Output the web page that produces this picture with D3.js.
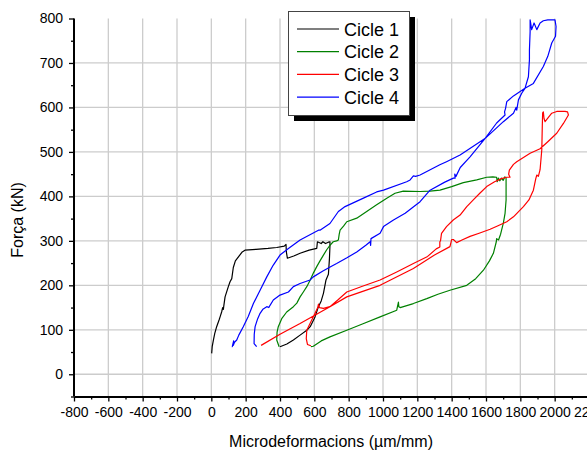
<!DOCTYPE html>
<meta charset="utf-8">
<script src="https://d3js.org/d3.v7.min.js"></script>
<style>
body{margin:0;background:#fff;}
text{font-family:"Liberation Sans",Arial,sans-serif;fill:#000;}
</style>
<body>
<div id="chart"></div>
<script>
// dades llegides del gràfic (microdeformacions, força kN)
var cicle1 = [[2,47],[5,62],[12,77],[20,92],[31,107],[45,122],[51,129],[60,140],[66,150],[70,146],[72,152],[80,174],[99,197],[109,208],[119,215],[128,240],[140,255],[160,265],[180,275],[196,279],[260,281],[330,283],[381,285],[425,288],[435,292],[437,275],[443,261],[480,266],[517,272],[570,279],[614,283],[618,298],[640,294],[650,298],[665,294],[682,297],[691,298],[691,288],[688,260],[682,225],[668,212],[653,182],[640,165],[624,152],[604,129],[576,107],[556,99],[517,88],[478,77],[440,68],[400,62]];
var cicle2 = [[395,62],[381,77],[383,95],[390,107],[410,125],[439,140],[478,152],[498,160],[517,174],[536,185],[556,197],[576,212],[595,228],[614,242],[633,255],[653,268],[672,280],[691,290],[710,298],[730,300],[740,302],[745,315],[750,324],[770,333],[789,343],[847,351],[905,366],[963,381],[1022,396],[1070,407],[1118,412],[1216,411],[1274,412],[1332,414],[1400,422],[1468,431],[1546,437],[1604,443],[1640,444],[1662,443],[1665,433],[1672,441],[1680,435],[1690,441],[1700,436],[1710,444],[1717,441],[1717,392],[1711,362],[1701,340],[1685,315],[1673,302],[1662,305],[1660,298],[1643,272],[1620,255],[1585,234],[1540,215],[1488,200],[1390,189],[1320,180],[1255,170],[1177,159],[1100,150],[1092,152],[1090,162],[1083,150],[1080,144],[983,129],[880,113],[789,99],[691,84],[640,75],[594,63],[580,62]];
var cicle3 = [[580,64],[560,67],[553,80],[556,99],[575,114],[604,137],[620,150],[624,158],[630,150],[653,148],[691,152],[740,168],[789,185],[880,198],[983,212],[1080,230],[1177,249],[1260,265],[1310,282],[1331,286],[1331,298],[1335,300],[1341,317],[1370,332],[1409,347],[1449,358],[1488,377],[1526,392],[1564,407],[1604,422],[1650,433],[1690,440],[1721,443],[1740,443],[1732,450],[1736,459],[1760,472],[1779,478],[1857,497],[1915,507],[1960,523],[2012,542],[2051,564],[2080,583],[2075,590],[2060,591],[2012,591],[1983,587],[1944,568],[1938,575],[1934,590],[1930,588],[1928,560],[1925,505],[1915,460],[1905,445],[1896,448],[1890,440],[1876,414],[1850,392],[1818,377],[1760,354],[1721,343],[1670,334],[1624,326],[1560,317],[1507,310],[1460,302],[1429,296],[1410,303],[1400,303],[1390,287],[1300,268],[1177,238],[983,200],[789,174],[691,152],[600,132],[517,114],[400,90],[290,65]];
var cicle4 = [[264,62],[249,69],[250,90],[255,107],[270,125],[284,137],[300,146],[323,152],[335,150],[342,155],[361,167],[400,178],[449,185],[478,197],[517,204],[575,212],[594,219],[650,232],[700,243],[730,249],[790,262],[847,275],[900,290],[925,298],[928,290],[930,305],[983,317],[1003,332],[1061,347],[1129,362],[1216,388],[1274,414],[1360,432],[1410,441],[1420,441],[1418,450],[1425,445],[1450,465],[1507,489],[1594,530],[1662,565],[1711,583],[1708,590],[1714,598],[1721,613],[1760,626],[1827,643],[1847,669],[1853,707],[1853,729],[1857,770],[1857,797],[1860,790],[1866,775],[1880,790],[1896,775],[1915,790],[1934,795],[1960,797],[2002,797],[2008,782],[2005,760],[1983,745],[1960,715],[1934,692],[1876,654],[1827,643],[1808,632],[1789,617],[1779,594],[1775,600],[1760,587],[1701,568],[1594,530],[1449,493],[1370,478],[1331,471],[1216,448],[1190,445],[1177,446],[1158,437],[1138,433],[1003,414],[963,410],[886,396],[779,377],[750,369],[740,366],[691,339],[633,324],[624,324],[536,306],[517,302],[449,283],[400,268],[360,245],[323,219],[284,189],[245,159],[215,130],[186,107],[160,88],[148,77],[135,72],[128,65],[130,75],[122,62],[119,62]];

var noms = ["Cicle 1","Cicle 2","Cicle 3","Cicle 4"];
var colors = ["#000000","#008000","#ff0000","#0000ff"];
var xTicks = [-800,-600,-400,-200,0,200,400,600,800,1000,1200,1400,1600,1800,2000,2200];
var yTicks = [0,100,200,300,400,500,600,700,800];

var W = 587, H = 453;
var x = d3.scaleLinear().domain([-800,2200]).range([74,589]);
var y = d3.scaleLinear().domain([-50,800]).range([396.5,18.5]);

var svg = d3.select('#chart').append('svg').attr('width',W).attr('height',H);

// graella
var grid = svg.append('g');
grid.selectAll('.gx').data(xTicks.filter(function(d){return d>-800;})).enter().append('line')
	.attr('x1',function(d){return x(d);}).attr('x2',function(d){return x(d);})
	.attr('y1',y(-50)).attr('y2',y(800)).attr('stroke','#cccccc').attr('stroke-width',1.3);
grid.selectAll('.gy').data(yTicks.filter(function(d){return d<800;})).enter().append('line')
	.attr('y1',function(d){return y(d);}).attr('y2',function(d){return y(d);})
	.attr('x1',x(-800)).attr('x2',W).attr('stroke','#cccccc').attr('stroke-width',1.3);

// corbes
var line = d3.line().x(function(d){return x(d[0]);}).y(function(d){return y(d[1]);});
var cicles = [cicle1,cicle2,cicle3,cicle4];
svg.append('g').selectAll('path').data(cicles).enter().append('path')
	.attr('d',line).attr('fill','none')
	.attr('stroke',function(d,i){return colors[i];}).attr('stroke-width',1.2)
	.attr('stroke-linejoin','round');

// eixos (guionet normal com a signe menys)
var fmt = function(d){return String(d);};
var xMinor = d3.range(-800,2201,100).filter(function(d){return d%200!==0;});
var yMinor = d3.range(-50,800,100);
svg.append('g').attr('transform','translate(0,'+y(-50)+')')
	.call(d3.axisBottom(x).tickValues(xMinor).tickSize(3).tickFormat(''))
	.call(function(g){g.select('.domain').remove();g.selectAll('line').attr('stroke-width',1.3);});
svg.append('g').attr('transform','translate('+x(-800)+',0)')
	.call(d3.axisLeft(y).tickValues(yMinor).tickSize(3).tickFormat(''))
	.call(function(g){g.select('.domain').remove();g.selectAll('line').attr('stroke-width',1.3);});

var xa = svg.append('g').attr('transform','translate(0,'+y(-50)+')')
	.call(d3.axisBottom(x).tickValues(xTicks).tickSize(5).tickSizeOuter(0).tickPadding(6).tickFormat(fmt));
xa.select('.domain').attr('stroke-width',2);
xa.selectAll('line').attr('stroke-width',1.3);
xa.selectAll('text').attr('font-size',14).style('font-family','"Liberation Sans",Arial,sans-serif');

var ya = svg.append('g').attr('transform','translate('+x(-800)+',0)')
	.call(d3.axisLeft(y).tickValues(yTicks).tickSize(5).tickSizeOuter(0).tickPadding(6).tickFormat(fmt));
ya.select('.domain').attr('stroke-width',2).attr('d','M0,'+y(800)+'V'+y(-50));
ya.selectAll('line').attr('stroke-width',1.3);
ya.selectAll('text').attr('font-size',14).style('font-family','"Liberation Sans",Arial,sans-serif');

// títols
svg.append('text').attr('x',331).attr('y',447).attr('text-anchor','middle')
	.attr('font-size',16).text('Microdeformacions (µm/mm)');
svg.append('text').attr('transform','translate(23,220) rotate(-90)').attr('text-anchor','middle')
	.attr('font-size',16).text('Força (kN)');

// llegenda
var lg = svg.append('g');
lg.append('rect').attr('x',294).attr('y',17).attr('width',121).attr('height',104).attr('fill','#000');
lg.append('rect').attr('x',288.5).attr('y',11.5).attr('width',121).attr('height',104)
	.attr('fill','#fff').attr('stroke','#444').attr('stroke-width',1);
noms.forEach(function(n,i){
	var yy = 29 + i*22.7;
	lg.append('line').attr('x1',297).attr('x2',339).attr('y1',yy).attr('y2',yy)
		.attr('stroke',colors[i]===('#000000')?'#555':colors[i]).attr('stroke-width',1.3);
	lg.append('text').attr('x',344).attr('y',yy+6.5).attr('font-size',18).text(n);
});
</script>
</body>
